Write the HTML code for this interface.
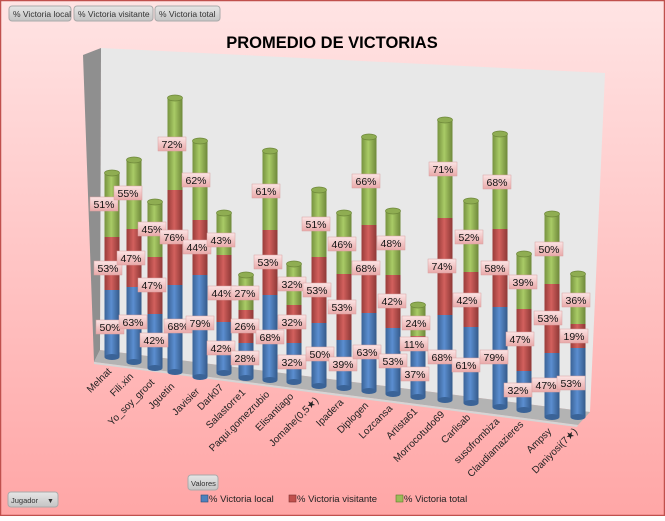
<!DOCTYPE html>
<html><head><meta charset="utf-8"><style>
body{margin:0;width:665px;height:516px;overflow:hidden;font-family:"Liberation Sans",sans-serif}
</style></head><body>
<svg width="665" height="516" xmlns="http://www.w3.org/2000/svg" font-family="Liberation Sans, sans-serif">
<defs>
<linearGradient id="bg" x1="0" y1="0" x2="0" y2="1"><stop offset="0" stop-color="#ffe4e4"/><stop offset="1" stop-color="#ffa6a6"/></linearGradient>
<linearGradient id="gb" x1="0" x2="1"><stop offset="0" stop-color="#3a6397"/><stop offset=".45" stop-color="#5b8ed0"/><stop offset="1" stop-color="#345a8a"/></linearGradient>
<linearGradient id="gr" x1="0" x2="1"><stop offset="0" stop-color="#993c3a"/><stop offset=".45" stop-color="#d2605d"/><stop offset="1" stop-color="#8e3836"/></linearGradient>
<linearGradient id="gg" x1="0" x2="1"><stop offset="0" stop-color="#76923f"/><stop offset=".45" stop-color="#a9cb66"/><stop offset="1" stop-color="#6e883a"/></linearGradient>
<linearGradient id="lb" x1="0" y1="0" x2="0" y2="1"><stop offset="0" stop-color="#fbe4e4"/><stop offset="1" stop-color="#e9a9a9"/></linearGradient>
<linearGradient id="bt" x1="0" y1="0" x2="0" y2="1"><stop offset="0" stop-color="#e6e6e6"/><stop offset="1" stop-color="#c4c4c4"/></linearGradient>
<style>
.l rect{fill:url(#lb);stroke:#d9a0a0;stroke-width:.5}
.l text{font-size:10.5px;fill:#111;text-anchor:middle}
.x{font-size:10px;fill:#222;text-anchor:end}
</style>
</defs>
<rect x="0" y="0" width="665" height="516" fill="url(#bg)"/>
<rect x="0.5" y="0.5" width="664" height="515" fill="none" stroke="#c0504d" stroke-width="1.5"/>
<!-- top buttons -->
<g font-size="8.5" fill="#333">
<rect x="9" y="6" width="62" height="15" rx="3" fill="url(#bt)" stroke="#aaa"/><text x="13" y="17">% Victoria local</text>
<rect x="74" y="6" width="79" height="15" rx="3" fill="url(#bt)" stroke="#aaa"/><text x="78" y="17">% Victoria visitante</text>
<rect x="155" y="6" width="65" height="15" rx="3" fill="url(#bt)" stroke="#aaa"/><text x="159" y="17">% Victoria total</text>
<rect x="188" y="475" width="30" height="15" rx="3" fill="url(#bt)" stroke="#aaa"/><text x="191" y="486" font-size="7.5">Valores</text>
<rect x="8" y="492" width="50" height="15" rx="3" fill="url(#bt)" stroke="#aaa"/><text x="11" y="503" font-size="7.5">Jugador</text><text x="47" y="503" font-size="7">▼</text>
</g>
<text x="332" y="48" font-size="16.5" font-weight="bold" text-anchor="middle" fill="#000">PROMEDIO DE VICTORIAS</text>
<!-- walls -->
<polygon points="101,48 605,73 590,412 100,350" fill="#e8e8e8"/>
<polygon points="83,55 101,48 100,350 94,362" fill="#8f8f8f"/>
<polygon points="94,362 100,350 590,412 578,425" fill="#b3b3b3"/>
<polygon points="94,362 578,425 577,427 94,364" fill="#d5d5d5"/>
<!-- bars -->
<g id="bars">
<!-- cx,top,redTop,blueTop,bottom -->
<g><rect x="104.5" y="173" width="15" height="64" fill="url(#gg)"/><rect x="104.5" y="237" width="15" height="53" fill="url(#gr)"/><rect x="104.5" y="290" width="15" height="67" fill="url(#gb)"/><ellipse cx="112" cy="357" rx="7.5" ry="3" fill="#3a6397"/><ellipse cx="112" cy="173" rx="7.5" ry="3" fill="#8fad52" stroke="#6e883a" stroke-width=".7"/></g>
<g><rect x="126.5" y="160" width="15" height="69" fill="url(#gg)"/><rect x="126.5" y="229" width="15" height="58" fill="url(#gr)"/><rect x="126.5" y="287" width="15" height="75" fill="url(#gb)"/><ellipse cx="134" cy="362" rx="7.5" ry="3" fill="#3a6397"/><ellipse cx="134" cy="160" rx="7.5" ry="3" fill="#8fad52" stroke="#6e883a" stroke-width=".7"/></g>
<g><rect x="147.5" y="202" width="15" height="55" fill="url(#gg)"/><rect x="147.5" y="257" width="15" height="57" fill="url(#gr)"/><rect x="147.5" y="314" width="15" height="54" fill="url(#gb)"/><ellipse cx="155" cy="368" rx="7.5" ry="3" fill="#3a6397"/><ellipse cx="155" cy="202" rx="7.5" ry="3" fill="#8fad52" stroke="#6e883a" stroke-width=".7"/></g>
<g><rect x="167.5" y="98" width="15" height="92" fill="url(#gg)"/><rect x="167.5" y="190" width="15" height="95" fill="url(#gr)"/><rect x="167.5" y="285" width="15" height="87" fill="url(#gb)"/><ellipse cx="175" cy="372" rx="7.5" ry="3" fill="#3a6397"/><ellipse cx="175" cy="98" rx="7.5" ry="3" fill="#8fad52" stroke="#6e883a" stroke-width=".7"/></g>
<g><rect x="192.5" y="141" width="15" height="79" fill="url(#gg)"/><rect x="192.5" y="220" width="15" height="55" fill="url(#gr)"/><rect x="192.5" y="275" width="15" height="102" fill="url(#gb)"/><ellipse cx="200" cy="377" rx="7.5" ry="3" fill="#3a6397"/><ellipse cx="200" cy="141" rx="7.5" ry="3" fill="#8fad52" stroke="#6e883a" stroke-width=".7"/></g>
<g><rect x="216.5" y="213" width="15" height="42" fill="url(#gg)"/><rect x="216.5" y="255" width="15" height="67" fill="url(#gr)"/><rect x="216.5" y="322" width="15" height="51" fill="url(#gb)"/><ellipse cx="224" cy="373" rx="7.5" ry="3" fill="#3a6397"/><ellipse cx="224" cy="213" rx="7.5" ry="3" fill="#8fad52" stroke="#6e883a" stroke-width=".7"/></g>
<g><rect x="238.5" y="275" width="15" height="35" fill="url(#gg)"/><rect x="238.5" y="310" width="15" height="33" fill="url(#gr)"/><rect x="238.5" y="343" width="15" height="35" fill="url(#gb)"/><ellipse cx="246" cy="378" rx="7.5" ry="3" fill="#3a6397"/><ellipse cx="246" cy="275" rx="7.5" ry="3" fill="#8fad52" stroke="#6e883a" stroke-width=".7"/></g>
<g><rect x="262.5" y="151" width="15" height="79" fill="url(#gg)"/><rect x="262.5" y="230" width="15" height="65" fill="url(#gr)"/><rect x="262.5" y="295" width="15" height="85" fill="url(#gb)"/><ellipse cx="270" cy="380" rx="7.5" ry="3" fill="#3a6397"/><ellipse cx="270" cy="151" rx="7.5" ry="3" fill="#8fad52" stroke="#6e883a" stroke-width=".7"/></g>
<g><rect x="286.5" y="264" width="15" height="41" fill="url(#gg)"/><rect x="286.5" y="305" width="15" height="38" fill="url(#gr)"/><rect x="286.5" y="343" width="15" height="39" fill="url(#gb)"/><ellipse cx="294" cy="382" rx="7.5" ry="3" fill="#3a6397"/><ellipse cx="294" cy="264" rx="7.5" ry="3" fill="#8fad52" stroke="#6e883a" stroke-width=".7"/></g>
<g><rect x="311.5" y="190" width="15" height="67" fill="url(#gg)"/><rect x="311.5" y="257" width="15" height="66" fill="url(#gr)"/><rect x="311.5" y="323" width="15" height="63" fill="url(#gb)"/><ellipse cx="319" cy="386" rx="7.5" ry="3" fill="#3a6397"/><ellipse cx="319" cy="190" rx="7.5" ry="3" fill="#8fad52" stroke="#6e883a" stroke-width=".7"/></g>
<g><rect x="336.5" y="213" width="15" height="61" fill="url(#gg)"/><rect x="336.5" y="274" width="15" height="66" fill="url(#gr)"/><rect x="336.5" y="340" width="15" height="48" fill="url(#gb)"/><ellipse cx="344" cy="388" rx="7.5" ry="3" fill="#3a6397"/><ellipse cx="344" cy="213" rx="7.5" ry="3" fill="#8fad52" stroke="#6e883a" stroke-width=".7"/></g>
<g><rect x="361.5" y="137" width="15" height="88" fill="url(#gg)"/><rect x="361.5" y="225" width="15" height="88" fill="url(#gr)"/><rect x="361.5" y="313" width="15" height="78" fill="url(#gb)"/><ellipse cx="369" cy="391" rx="7.5" ry="3" fill="#3a6397"/><ellipse cx="369" cy="137" rx="7.5" ry="3" fill="#8fad52" stroke="#6e883a" stroke-width=".7"/></g>
<g><rect x="385.5" y="211" width="15" height="64" fill="url(#gg)"/><rect x="385.5" y="275" width="15" height="53" fill="url(#gr)"/><rect x="385.5" y="328" width="15" height="66" fill="url(#gb)"/><ellipse cx="393" cy="394" rx="7.5" ry="3" fill="#3a6397"/><ellipse cx="393" cy="211" rx="7.5" ry="3" fill="#8fad52" stroke="#6e883a" stroke-width=".7"/></g>
<g><rect x="410.5" y="305" width="15" height="31" fill="url(#gg)"/><rect x="410.5" y="336" width="15" height="9" fill="url(#gr)"/><rect x="410.5" y="345" width="15" height="52" fill="url(#gb)"/><ellipse cx="418" cy="397" rx="7.5" ry="3" fill="#3a6397"/><ellipse cx="418" cy="305" rx="7.5" ry="3" fill="#8fad52" stroke="#6e883a" stroke-width=".7"/></g>
<g><rect x="437.5" y="120" width="15" height="98" fill="url(#gg)"/><rect x="437.5" y="218" width="15" height="97" fill="url(#gr)"/><rect x="437.5" y="315" width="15" height="85" fill="url(#gb)"/><ellipse cx="445" cy="400" rx="7.5" ry="3" fill="#3a6397"/><ellipse cx="445" cy="120" rx="7.5" ry="3" fill="#8fad52" stroke="#6e883a" stroke-width=".7"/></g>
<g><rect x="463.5" y="201" width="15" height="71" fill="url(#gg)"/><rect x="463.5" y="272" width="15" height="55" fill="url(#gr)"/><rect x="463.5" y="327" width="15" height="76" fill="url(#gb)"/><ellipse cx="471" cy="403" rx="7.5" ry="3" fill="#3a6397"/><ellipse cx="471" cy="201" rx="7.5" ry="3" fill="#8fad52" stroke="#6e883a" stroke-width=".7"/></g>
<g><rect x="492.5" y="134" width="15" height="95" fill="url(#gg)"/><rect x="492.5" y="229" width="15" height="78" fill="url(#gr)"/><rect x="492.5" y="307" width="15" height="100" fill="url(#gb)"/><ellipse cx="500" cy="407" rx="7.5" ry="3" fill="#3a6397"/><ellipse cx="500" cy="134" rx="7.5" ry="3" fill="#8fad52" stroke="#6e883a" stroke-width=".7"/></g>
<g><rect x="516.5" y="254" width="15" height="55" fill="url(#gg)"/><rect x="516.5" y="309" width="15" height="62" fill="url(#gr)"/><rect x="516.5" y="371" width="15" height="39" fill="url(#gb)"/><ellipse cx="524" cy="410" rx="7.5" ry="3" fill="#3a6397"/><ellipse cx="524" cy="254" rx="7.5" ry="3" fill="#8fad52" stroke="#6e883a" stroke-width=".7"/></g>
<g><rect x="544.5" y="214" width="15" height="70" fill="url(#gg)"/><rect x="544.5" y="284" width="15" height="69" fill="url(#gr)"/><rect x="544.5" y="353" width="15" height="64" fill="url(#gb)"/><ellipse cx="552" cy="417" rx="7.5" ry="3" fill="#3a6397"/><ellipse cx="552" cy="214" rx="7.5" ry="3" fill="#8fad52" stroke="#6e883a" stroke-width=".7"/></g>
<g><rect x="570.5" y="274" width="15" height="50" fill="url(#gg)"/><rect x="570.5" y="324" width="15" height="24" fill="url(#gr)"/><rect x="570.5" y="348" width="15" height="69" fill="url(#gb)"/><ellipse cx="578" cy="417" rx="7.5" ry="3" fill="#3a6397"/><ellipse cx="578" cy="274" rx="7.5" ry="3" fill="#8fad52" stroke="#6e883a" stroke-width=".7"/></g>
</g>
<!-- labels -->
<g class="l">
<rect x="90" y="197" width="28" height="14"/><text x="104" y="208">51%</text>
<rect x="94" y="261" width="28" height="14"/><text x="108" y="272">53%</text>
<rect x="96" y="320" width="28" height="14"/><text x="110" y="331">50%</text>
<rect x="114" y="186" width="28" height="14"/><text x="128" y="197">55%</text>
<rect x="117" y="251" width="28" height="14"/><text x="131" y="262">47%</text>
<rect x="119" y="315" width="28" height="14"/><text x="133" y="326">63%</text>
<rect x="138" y="222" width="28" height="14"/><text x="152" y="233">45%</text>
<rect x="138" y="278" width="28" height="14"/><text x="152" y="289">47%</text>
<rect x="140" y="333" width="28" height="14"/><text x="154" y="344">42%</text>
<rect x="158" y="137" width="28" height="14"/><text x="172" y="148">72%</text>
<rect x="160" y="230" width="28" height="14"/><text x="174" y="241">76%</text>
<rect x="164" y="319" width="28" height="14"/><text x="178" y="330">68%</text>
<rect x="182" y="173" width="28" height="14"/><text x="196" y="184">62%</text>
<rect x="183" y="240" width="28" height="14"/><text x="197" y="251">44%</text>
<rect x="186" y="316" width="28" height="14"/><text x="200" y="327">79%</text>
<rect x="207" y="233" width="28" height="14"/><text x="221" y="244">43%</text>
<rect x="208" y="286" width="28" height="14"/><text x="222" y="297">44%</text>
<rect x="207" y="341" width="28" height="14"/><text x="221" y="352">42%</text>
<rect x="231" y="286" width="28" height="14"/><text x="245" y="297">27%</text>
<rect x="231" y="319" width="28" height="14"/><text x="245" y="330">26%</text>
<rect x="231" y="351" width="28" height="14"/><text x="245" y="362">28%</text>
<rect x="252" y="184" width="28" height="14"/><text x="266" y="195">61%</text>
<rect x="254" y="255" width="28" height="14"/><text x="268" y="266">53%</text>
<rect x="256" y="330" width="28" height="14"/><text x="270" y="341">68%</text>
<rect x="278" y="277" width="28" height="14"/><text x="292" y="288">32%</text>
<rect x="278" y="315" width="28" height="14"/><text x="292" y="326">32%</text>
<rect x="278" y="355" width="28" height="14"/><text x="292" y="366">32%</text>
<rect x="302" y="217" width="28" height="14"/><text x="316" y="228">51%</text>
<rect x="303" y="283" width="28" height="14"/><text x="317" y="294">53%</text>
<rect x="306" y="347" width="28" height="14"/><text x="320" y="358">50%</text>
<rect x="328" y="237" width="28" height="14"/><text x="342" y="248">46%</text>
<rect x="328" y="300" width="28" height="14"/><text x="342" y="311">53%</text>
<rect x="329" y="357" width="28" height="14"/><text x="343" y="368">39%</text>
<rect x="352" y="174" width="28" height="14"/><text x="366" y="185">66%</text>
<rect x="352" y="261" width="28" height="14"/><text x="366" y="272">68%</text>
<rect x="353" y="345" width="28" height="14"/><text x="367" y="356">63%</text>
<rect x="377" y="236" width="28" height="14"/><text x="391" y="247">48%</text>
<rect x="378" y="294" width="28" height="14"/><text x="392" y="305">42%</text>
<rect x="379" y="354" width="28" height="14"/><text x="393" y="365">53%</text>
<rect x="402" y="316" width="28" height="14"/><text x="416" y="327">24%</text>
<rect x="400" y="337" width="28" height="14"/><text x="414" y="348">11%</text>
<rect x="401" y="367" width="28" height="14"/><text x="415" y="378">37%</text>
<rect x="429" y="162" width="28" height="14"/><text x="443" y="173">71%</text>
<rect x="428" y="259" width="28" height="14"/><text x="442" y="270">74%</text>
<rect x="428" y="350" width="28" height="14"/><text x="442" y="361">68%</text>
<rect x="455" y="230" width="28" height="14"/><text x="469" y="241">52%</text>
<rect x="453" y="293" width="28" height="14"/><text x="467" y="304">42%</text>
<rect x="452" y="358" width="28" height="14"/><text x="466" y="369">61%</text>
<rect x="483" y="175" width="28" height="14"/><text x="497" y="186">68%</text>
<rect x="481" y="261" width="28" height="14"/><text x="495" y="272">58%</text>
<rect x="480" y="350" width="28" height="14"/><text x="494" y="361">79%</text>
<rect x="509" y="275" width="28" height="14"/><text x="523" y="286">39%</text>
<rect x="506" y="332" width="28" height="14"/><text x="520" y="343">47%</text>
<rect x="504" y="383" width="28" height="14"/><text x="518" y="394">32%</text>
<rect x="535" y="242" width="28" height="14"/><text x="549" y="253">50%</text>
<rect x="534" y="311" width="28" height="14"/><text x="548" y="322">53%</text>
<rect x="532" y="378" width="28" height="14"/><text x="546" y="389">47%</text>
<rect x="562" y="293" width="28" height="14"/><text x="576" y="304">36%</text>
<rect x="560" y="329" width="28" height="14"/><text x="574" y="340">19%</text>
<rect x="557" y="376" width="28" height="14"/><text x="571" y="387">53%</text>
</g>
<!-- x labels -->
<g class="x">
<text class="x" transform="translate(112,372) rotate(-45)">Melnat</text>
<text class="x" transform="translate(134,377) rotate(-45)">Fili.xin</text>
<text class="x" transform="translate(155,383) rotate(-45)">Yo_soy_groot</text>
<text class="x" transform="translate(175,387) rotate(-45)">Jguetin</text>
<text class="x" transform="translate(200,392) rotate(-45)">Javisier</text>
<text class="x" transform="translate(224,388) rotate(-45)">Dark07</text>
<text class="x" transform="translate(246,393) rotate(-45)">Salastorre1</text>
<text class="x" transform="translate(270,395) rotate(-45)">Paqui.gomezrubio</text>
<text class="x" transform="translate(294,397) rotate(-45)">Elisantiago</text>
<text class="x" transform="translate(319,401) rotate(-45)">Jomahe(0,5★)</text>
<text class="x" transform="translate(344,403) rotate(-45)">Ipadera</text>
<text class="x" transform="translate(369,406) rotate(-45)">Diplogen</text>
<text class="x" transform="translate(393,409) rotate(-45)">Lozcansa</text>
<text class="x" transform="translate(418,412) rotate(-45)">Artista61</text>
<text class="x" transform="translate(445,415) rotate(-45)">Morrocotudo69</text>
<text class="x" transform="translate(471,418) rotate(-45)">Carlisab</text>
<text class="x" transform="translate(500,422) rotate(-45)">susofrombiza</text>
<text class="x" transform="translate(524,425) rotate(-45)">Claudiamazieres</text>
<text class="x" transform="translate(552,432) rotate(-45)">Ampsy</text>
<text class="x" transform="translate(578,432) rotate(-45)">Daniyosi(7★)</text>
</g>
<!-- legend -->
<g font-size="9.5" fill="#222">
<rect x="201" y="495" width="7" height="7" fill="#4f81bd" stroke="#2c4d75" stroke-width=".6"/><text x="209" y="502">% Victoria local</text>
<rect x="289" y="495" width="7" height="7" fill="#c0504d" stroke="#7f2f2d" stroke-width=".6"/><text x="297" y="502">% Victoria visitante</text>
<rect x="396" y="495" width="7" height="7" fill="#9bbb59" stroke="#5f7a2c" stroke-width=".6"/><text x="404" y="502">% Victoria total</text>
</g>
</svg>
</body></html>
